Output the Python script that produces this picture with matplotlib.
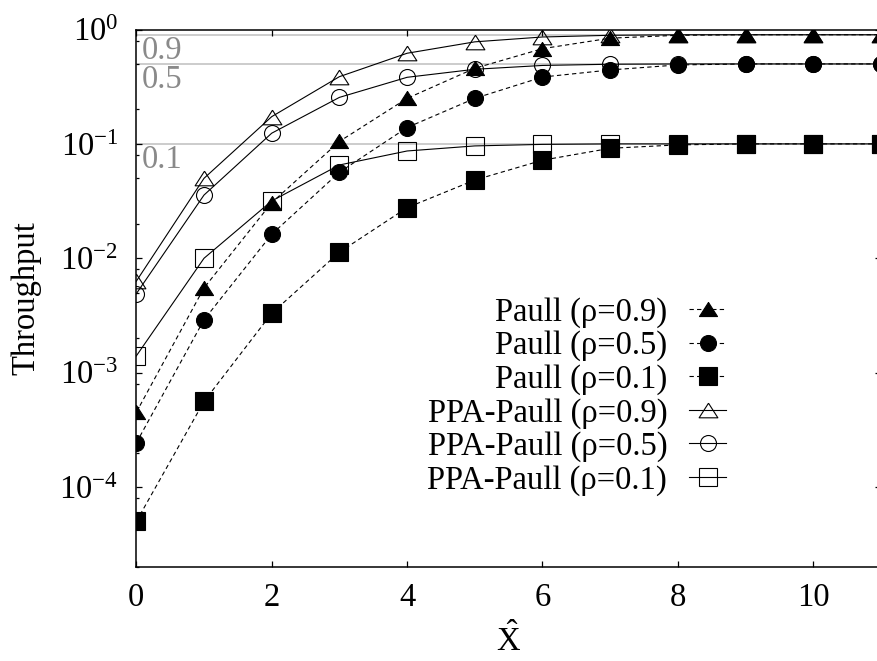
import numpy as np
import matplotlib
matplotlib.use('Agg')
import matplotlib.pyplot as plt
from matplotlib.ticker import LogLocator, LogFormatterMathtext, NullFormatter, MultipleLocator

# data
x_hat = [0, 1, 2, 3, 4, 5, 6, 7, 8, 9, 10, 11]

paull_09 = [4.5e-4, 5.5e-3, 0.0306, 0.105, 0.25, 0.458, 0.68, 0.84, 0.89, 0.9, 0.9, 0.9]
paull_05 = [2.43e-4, 2.9e-3, 0.0162, 0.0565, 0.139, 0.25, 0.384, 0.443, 0.49, 0.5, 0.5, 0.5]
paull_01 = [5.0e-5, 5.6e-4, 3.3e-3, 0.0113, 0.0277, 0.0483, 0.072, 0.0915, 0.098, 0.1, 0.1, 0.1]

ppa_09 = [6.3e-3, 0.050, 0.173, 0.387, 0.62, 0.78, 0.86, 0.89, 0.9, 0.9, 0.9, 0.9]
ppa_05 = [4.9e-3, 0.0357, 0.124, 0.255, 0.382, 0.449, 0.485, 0.497, 0.5, 0.5, 0.5, 0.5]
ppa_01 = [1.4e-3, 0.0100, 0.0317, 0.0654, 0.0867, 0.096, 0.099, 0.1, 0.1, 0.1, 0.1, 0.1]

rho_levels = [0.9, 0.5, 0.1]
rho_labels = ['0.9', '0.5', '0.1']

plt.rcParams['font.family'] = ['Liberation Serif', 'DejaVu Serif']
plt.rcParams['mathtext.fontset'] = 'custom'
plt.rcParams['mathtext.rm'] = 'Liberation Serif'
plt.rcParams['mathtext.it'] = 'Liberation Serif:italic'

fs = 23.5

fig = plt.figure(figsize=(8.78, 6.61), dpi=100)
ax = fig.add_axes([136.3 / 878, 1 - 567 / 661, 744.7 / 878, (567 - 29.5) / 661])

# wide gnuplot-ish triangle
tri = [(0, 0.78), (-1, -0.78), (1, -0.78), (0, 0.78)]

# grey reference lines for the rho values
for v, lab in zip(rho_levels, rho_labels):
    ax.axhline(v, color='#c8c8c8', lw=1.3, zorder=1)
    ax.text(0.08, v * 0.985, lab, color='#8a8a8a', fontsize=fs, va='top', ha='left', zorder=2)

dash = (0, (3.9, 2.9))
lw = 0.8
mew = 0.8

ax.plot(x_hat, paull_09, color='k', ls=dash, lw=lw, marker=tri, ms=13, mew=mew, mfc='k', label='Paull (ρ=0.9)')
ax.plot(x_hat, paull_05, color='k', ls=dash, lw=lw, marker='o', ms=11.5, mew=mew, mfc='k', label='Paull (ρ=0.5)')
ax.plot(x_hat, paull_01, color='k', ls=dash, lw=lw, marker='s', ms=12.3, mew=mew, mfc='k', label='Paull (ρ=0.1)')
ax.plot(x_hat, ppa_09, color='k', ls='-', lw=lw, marker=tri, ms=13.5, mew=mew, mfc='none', label='PPA-Paull (ρ=0.9)')
ax.plot(x_hat, ppa_05, color='k', ls='-', lw=lw, marker='o', ms=11.5, mew=mew, mfc='none', label='PPA-Paull (ρ=0.5)')
ax.plot(x_hat, ppa_01, color='k', ls='-', lw=lw, marker='s', ms=12.3, mew=mew, mfc='none', label='PPA-Paull (ρ=0.1)')

ax.set_yscale('log')
ax.set_xlim(0, 11)
ax.set_ylim(2e-5, 1)

ax.xaxis.set_major_locator(MultipleLocator(2))
ax.yaxis.set_major_locator(LogLocator(base=10, numticks=20))
ax.yaxis.set_major_formatter(LogFormatterMathtext())
ax.yaxis.set_minor_locator(LogLocator(base=10, subs=[2, 5, 8], numticks=20))
ax.yaxis.set_minor_formatter(NullFormatter())

ax.tick_params(which='both', direction='in', top=True, right=True, labelsize=fs, width=0.9)
ax.tick_params(which='major', length=4.3)
ax.tick_params(which='minor', length=2.2)
ax.tick_params(axis='x', pad=11)
ax.tick_params(axis='y', pad=13)
for s in ax.spines.values():
    s.set_linewidth(1.1)

ax.set_ylabel('Throughput', fontsize=fs, labelpad=13)
# slightly higher than the original so it is not clipped by the figure edge
ax.set_xlabel(r'$\hat{\mathrm{X}}$', fontsize=fs, labelpad=7)

leg = ax.legend(loc='upper right', bbox_to_anchor=(726 / 878, 1 - 297 / 661),
                bbox_transform=fig.transFigure, frameon=False, markerfirst=False,
                fontsize=fs, handlelength=1.13, handletextpad=0.67, labelspacing=0.085,
                borderpad=0, borderaxespad=0, numpoints=1)

fig.savefig('out.png', dpi=100)
